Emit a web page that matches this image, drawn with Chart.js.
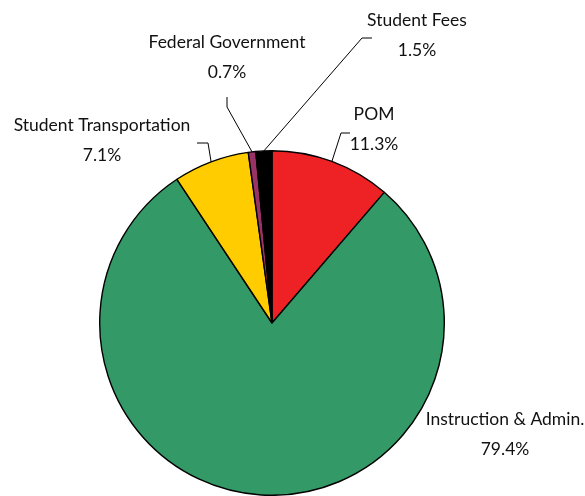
<!DOCTYPE html>
<html>
<head>
<meta charset="utf-8">
<script src="https://cdn.jsdelivr.net/npm/chart.js@4"></script>
<style>
  html, body { margin: 0; padding: 0; background: #fff; }
  #wrap { width: 585px; height: 496px; position: relative; }
</style>
</head>
<body>
<div id="wrap"><canvas id="revenueChart"></canvas></div>
<script>
const categories = ["POM", "Instruction & Admin.", "Student Transportation", "Federal Government", "Student Fees"];
const shares = [11.3, 79.4, 7.1, 0.7, 1.5];
const sliceColors = ["#EE2224", "#339966", "#FFCC00", "#993366", "#000000"];

// label text position and leader elbow for each slice (null = no leader)
const labelLayout = [
    { x: 374, y: 114, elbow: [[341, 133], [350, 133]] },
    { x: 505, y: 419, elbow: null },
    { x: 102, y: 125, elbow: [[208, 143], [197, 143]] },
    { x: 227, y: 42, elbow: [[227, 107], [227, 97]] },
    { x: 417, y: 20, elbow: [[362, 38], [372, 38]] }
];

const FONT = "Lato, 'Open Sans', sans-serif";

const outsideLabels = {
    id: "outsideLabels",
    afterDraw(chart) {
        const ctx = chart.ctx;
        const arcs = chart.getDatasetMeta(0).data;
        ctx.save();
        arcs.forEach((arc, i) => {
            const lay = labelLayout[i];
            if (lay.elbow) {
                const mid = (arc.startAngle + arc.endAngle) / 2;
                const ax = arc.x + Math.cos(mid) * arc.outerRadius;
                const ay = arc.y + Math.sin(mid) * arc.outerRadius;
                ctx.beginPath();
                ctx.moveTo(ax, ay);
                lay.elbow.forEach(p => ctx.lineTo(p[0], p[1]));
                ctx.strokeStyle = "#000";
                ctx.lineWidth = 1;
                ctx.stroke();
            }
            ctx.fillStyle = "#111";
            ctx.font = "17.5px " + FONT;
            ctx.textAlign = "center";
            ctx.textBaseline = "middle";
            ctx.fillText(categories[i], lay.x, lay.y);
            ctx.fillText(shares[i].toFixed(1) + "%", lay.x, lay.y + 30);
        });
        ctx.restore();
    }
};

new Chart(document.getElementById("revenueChart"), {
    type: "pie",
    data: {
        labels: categories,
        datasets: [{
            data: shares,
            backgroundColor: sliceColors,
            borderColor: "#000",
            borderWidth: 1.4
        }]
    },
    options: {
        responsive: true,
        maintainAspectRatio: false,
        animation: false,
        layout: {
            padding: { top: 150, bottom: 0, left: 99, right: 140 }
        },
        plugins: {
            legend: { display: false },
            tooltip: { enabled: false }
        }
    },
    plugins: [outsideLabels]
});
</script>
</body>
</html>
